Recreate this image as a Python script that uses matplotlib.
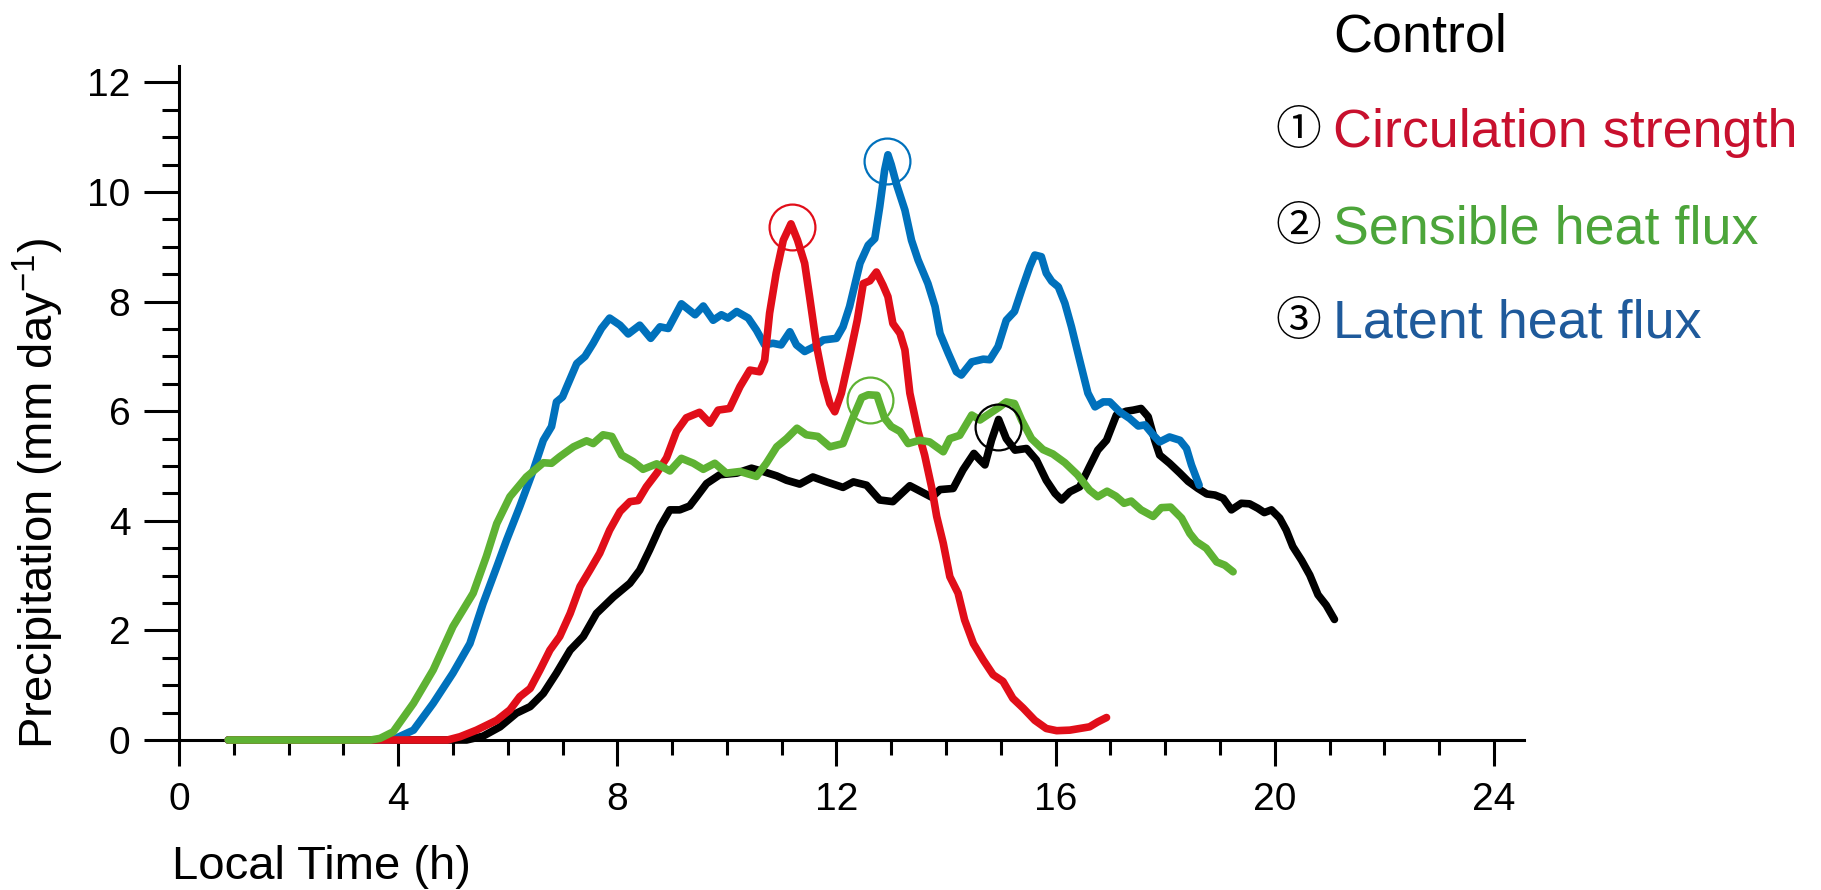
import matplotlib
matplotlib.use("Agg")
import matplotlib.pyplot as plt
from matplotlib.ticker import MultipleLocator

plt.rcParams['font.family'] = ['Liberation Sans', 'DejaVu Sans']
plt.rcParams['mathtext.fontset'] = 'custom'
plt.rcParams['mathtext.rm'] = 'Liberation Sans'
plt.rcParams['mathtext.it'] = 'Liberation Sans:italic'

# Control run (black)
ctrl_t = [0.9, 5.0, 5.25, 5.55, 5.86, 6.16, 6.41, 6.65, 6.89, 7.14,
          7.38, 7.62, 7.93, 8.23, 8.41, 8.59, 8.78, 8.96, 9.14, 9.32,
          9.45, 9.63, 9.87, 10.18, 10.45, 10.66, 10.91, 11.09, 11.33, 11.57,
          11.82, 12.12, 12.31, 12.55, 12.79, 13.03, 13.34, 13.55, 13.74, 13.89,
          14.13, 14.31, 14.51, 14.62, 14.71, 14.83, 14.96, 15.10, 15.26, 15.47,
          15.65, 15.83, 15.99, 16.11, 16.26, 16.44, 16.62, 16.77, 16.93, 17.11,
          17.29, 17.42, 17.56, 17.69, 17.81, 17.90, 18.08, 18.27, 18.42, 18.60,
          18.76, 18.91, 19.06, 19.21, 19.39, 19.54, 19.69, 19.81, 19.94, 20.09,
          20.21, 20.33, 20.49, 20.64, 20.79, 20.94, 21.09]
ctrl_v = [0, 0, 0.0, 0.07, 0.24, 0.49, 0.61, 0.85, 1.22, 1.64,
          1.89, 2.31, 2.61, 2.86, 3.10, 3.47, 3.89, 4.20, 4.20, 4.27,
          4.44, 4.68, 4.84, 4.87, 4.96, 4.90, 4.82, 4.74, 4.67, 4.80,
          4.71, 4.61, 4.71, 4.65, 4.38, 4.35, 4.64, 4.53, 4.43, 4.57,
          4.59, 4.93, 5.23, 5.11, 5.02, 5.47, 5.85, 5.50, 5.29, 5.32,
          5.11, 4.74, 4.50, 4.38, 4.53, 4.62, 4.99, 5.29, 5.47, 5.93,
          6.00, 6.02, 6.05, 5.90, 5.47, 5.20, 5.05, 4.87, 4.72, 4.59,
          4.49, 4.47, 4.41, 4.20, 4.32, 4.31, 4.23, 4.15, 4.20, 4.05,
          3.83, 3.53, 3.28, 3.01, 2.65, 2.46, 2.20]

# (1) circulation strength (red)
circ_t = [0.9, 4.9, 5.13, 5.43, 5.80, 6.04, 6.22, 6.41, 6.59, 6.77,
          6.95, 7.14, 7.32, 7.50, 7.68, 7.86, 8.05, 8.23, 8.38, 8.53,
          8.72, 8.90, 9.08, 9.26, 9.50, 9.69, 9.84, 10.05, 10.24, 10.42,
          10.60, 10.69, 10.78, 10.90, 11.03, 11.17, 11.29, 11.42, 11.51, 11.64,
          11.76, 11.88, 11.97, 12.09, 12.24, 12.38, 12.49, 12.61, 12.73, 12.85,
          12.94, 13.03, 13.16, 13.25, 13.34, 13.49, 13.61, 13.74, 13.83, 13.95,
          14.07, 14.22, 14.34, 14.50, 14.68, 14.86, 15.04, 15.22, 15.41, 15.62,
          15.83, 16.02, 16.26, 16.44, 16.62, 16.77, 16.93]
circ_v = [0, 0, 0.06, 0.18, 0.36, 0.55, 0.79, 0.94, 1.28, 1.64,
          1.89, 2.31, 2.80, 3.10, 3.41, 3.83, 4.17, 4.35, 4.37, 4.62,
          4.87, 5.15, 5.63, 5.88, 5.98, 5.78, 6.02, 6.05, 6.45, 6.75,
          6.72, 6.93, 7.79, 8.52, 9.12, 9.42, 9.12, 8.70, 8.09, 7.18,
          6.57, 6.14, 5.99, 6.33, 7.00, 7.66, 8.33, 8.38, 8.54, 8.30,
          8.09, 7.60, 7.42, 7.12, 6.33, 5.63, 5.20, 4.60, 4.08, 3.59,
          2.98, 2.68, 2.19, 1.76, 1.46, 1.19, 1.07, 0.76, 0.58, 0.36,
          0.21, 0.17, 0.18, 0.21, 0.24, 0.33, 0.41]

# (2) sensible heat flux (green)
sens_t = [0.9, 3.5, 3.67, 3.91, 4.28, 4.64, 5.00, 5.37, 5.61, 5.80,
          6.04, 6.34, 6.65, 6.80, 6.95, 7.20, 7.44, 7.56, 7.74, 7.90,
          8.08, 8.29, 8.47, 8.72, 8.96, 9.17, 9.39, 9.57, 9.78, 9.99,
          10.24, 10.54, 10.72, 10.91, 11.09, 11.28, 11.45, 11.66, 11.88, 12.12,
          12.31, 12.46, 12.58, 12.74, 12.88, 13.00, 13.16, 13.31, 13.52, 13.70,
          13.95, 14.07, 14.25, 14.47, 14.62, 14.80, 14.98, 15.10, 15.25, 15.38,
          15.56, 15.77, 15.95, 16.17, 16.40, 16.62, 16.77, 16.94, 17.10, 17.25,
          17.38, 17.56, 17.78, 17.93, 18.10, 18.30, 18.45, 18.57, 18.75, 18.94,
          19.09, 19.24]
sens_v = [0, 0.0, 0.03, 0.15, 0.67, 1.28, 2.07, 2.68, 3.35, 3.95,
          4.44, 4.80, 5.06, 5.05, 5.17, 5.35, 5.46, 5.41, 5.57, 5.54,
          5.20, 5.08, 4.94, 5.04, 4.91, 5.14, 5.05, 4.94, 5.05, 4.87,
          4.90, 4.81, 5.05, 5.35, 5.50, 5.69, 5.57, 5.54, 5.35, 5.41,
          5.90, 6.25, 6.30, 6.29, 5.87, 5.72, 5.63, 5.41, 5.47, 5.44,
          5.26, 5.50, 5.56, 5.93, 5.84, 5.96, 6.08, 6.17, 6.14, 5.84,
          5.50, 5.30, 5.22, 5.06, 4.84, 4.56, 4.44, 4.54, 4.45, 4.32,
          4.36, 4.20, 4.08, 4.24, 4.25, 4.05, 3.77, 3.62, 3.50, 3.25,
          3.19, 3.07]

# (3) latent heat flux (blue)
lat_t = [0.9, 3.8, 3.91, 4.28, 4.64, 5.00, 5.31, 5.55, 5.80, 5.98,
         6.22, 6.47, 6.65, 6.80, 6.89, 7.00, 7.08, 7.26, 7.41, 7.56,
         7.71, 7.86, 8.05, 8.20, 8.41, 8.61, 8.78, 8.93, 9.17, 9.42,
         9.57, 9.75, 9.90, 10.02, 10.18, 10.39, 10.54, 10.69, 10.84, 10.99,
         11.15, 11.27, 11.42, 11.60, 11.76, 12.00, 12.12, 12.24, 12.43, 12.58,
         12.70, 12.79, 12.88, 12.94, 13.00, 13.10, 13.25, 13.37, 13.49, 13.67,
         13.80, 13.89, 14.04, 14.19, 14.28, 14.47, 14.68, 14.80, 14.95, 15.10,
         15.25, 15.38, 15.53, 15.62, 15.74, 15.83, 15.93, 16.05, 16.17, 16.29,
         16.44, 16.59, 16.72, 16.87, 16.99, 17.17, 17.35, 17.51, 17.63, 17.78,
         17.90, 18.08, 18.27, 18.39, 18.48, 18.62]
lat_v = [0, 0.0, 0.01, 0.18, 0.67, 1.22, 1.76, 2.49, 3.16, 3.65,
         4.26, 4.93, 5.47, 5.72, 6.17, 6.26, 6.45, 6.87, 7.00, 7.24,
         7.51, 7.70, 7.57, 7.41, 7.57, 7.33, 7.54, 7.51, 7.96, 7.76,
         7.92, 7.66, 7.76, 7.70, 7.82, 7.70, 7.48, 7.21, 7.24, 7.21,
         7.45, 7.21, 7.09, 7.18, 7.30, 7.33, 7.54, 7.91, 8.70, 9.03,
         9.15, 9.73, 10.40, 10.68, 10.50, 10.13, 9.67, 9.12, 8.76, 8.33,
         7.91, 7.42, 7.06, 6.72, 6.66, 6.90, 6.95, 6.94, 7.18, 7.66,
         7.82, 8.21, 8.64, 8.85, 8.82, 8.52, 8.37, 8.27, 7.97, 7.54,
         6.93, 6.33, 6.08, 6.17, 6.17, 5.99, 5.87, 5.73, 5.75, 5.57,
         5.44, 5.53, 5.47, 5.32, 5.02, 4.65]

# peak markers (time, value) for each run
peak_t = [14.94, 11.18, 12.62, 12.93]
peak_v = [5.72, 9.37, 6.20, 10.57]

labels = ['Control', 'Circulation strength', 'Sensible heat flux', 'Latent heat flux']
numbers = ['', '\u2460', '\u2461', '\u2462']
line_colors = ['black', '#E10E19', '#5EB233', '#0071BC']
text_colors = ['black', '#C8102E', '#4CA53A', '#1F5A9B']

fig = plt.figure(figsize=(18.21, 8.90), dpi=100)
ax = fig.add_axes([179 / 1821, 1 - 740 / 890, 1345 / 1821, 674 / 890])

series = [(ctrl_t, ctrl_v), (circ_t, circ_v), (sens_t, sens_v), (lat_t, lat_v)]
# drawing order: control at bottom, sensible heat flux on top
order = [0, 3, 1, 2]
for z, i in enumerate(order):
    t, v = series[i]
    ax.plot(t, v, color=line_colors[i], lw=5.5, clip_on=False,
            solid_capstyle='round', solid_joinstyle='round', zorder=3 + z)

for i in range(4):
    ax.plot(peak_t[i], peak_v[i], 'o', ms=33, mfc='none', mec=line_colors[i],
            mew=1.6, zorder=10)

ax.set_xlim(0, 24.55)
ax.set_ylim(0, 12.3)
ax.spines['top'].set_visible(False)
ax.spines['right'].set_visible(False)
for s in ['left', 'bottom']:
    ax.spines[s].set_linewidth(2.2)

ax.xaxis.set_major_locator(MultipleLocator(4))
ax.xaxis.set_minor_locator(MultipleLocator(1))
ax.yaxis.set_major_locator(MultipleLocator(2))
ax.yaxis.set_minor_locator(MultipleLocator(0.5))
ax.tick_params(axis='x', which='major', direction='out', length=19, width=2.2,
               pad=11, labelsize=28, colors='black')
ax.tick_params(axis='x', which='minor', direction='out', length=11, width=2.2)
ax.tick_params(axis='y', which='major', direction='out', length=25, width=2.2,
               pad=10, labelsize=28)
ax.tick_params(axis='y', which='minor', direction='out', length=12, width=2.2)
ax.set_xticks([0, 4, 8, 12, 16, 20, 24])

fig.text(172 / 1821, 1 - 879 / 890, 'Local Time (h)', fontsize=34,
         ha='left', va='baseline')
fig.text(38 / 1821, 1 - 493 / 890, r'Precipitation (mm day$^{-1}$)', fontsize=34,
         rotation=90, ha='center', va='center')

baselines = [52, 147, 243, 338]
for i in range(4):
    fig.text(1333 / 1821, 1 - baselines[i] / 890, labels[i], fontsize=38.8,
             color=text_colors[i], ha='left', va='baseline')
    if numbers[i]:
        fig.text(1298 / 1821, 1 - (baselines[i] - 16) / 890, numbers[i],
                 fontsize=33, family=['Noto Sans CJK JP', 'DejaVu Sans'],
                 color='black', ha='center', va='center')

fig.savefig('out.png', dpi=100)
